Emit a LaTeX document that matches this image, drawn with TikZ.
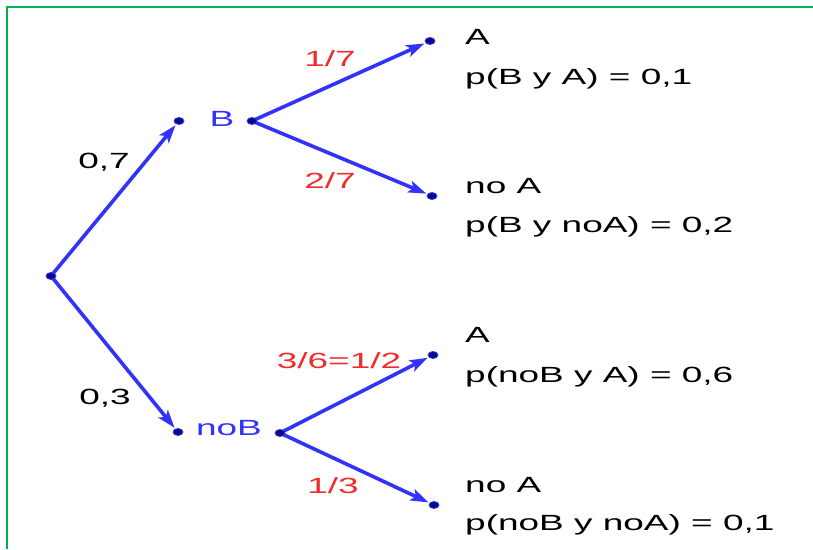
\documentclass[tikz,border=0pt]{standalone}
\usepackage{fontspec}
\setmainfont{Liberation Sans}[FakeStretch=1.68]
\usetikzlibrary{arrows.meta,shapes.geometric}
\definecolor{lblue}{RGB}{50,50,250}
\definecolor{navy}{RGB}{10,10,130}
\definecolor{lred}{RGB}{240,45,45}
\definecolor{lgreen}{RGB}{0,178,80}
\pgfdeclarelayer{bg}
\pgfsetlayers{bg,main}
\tikzset{
  pt/.style={ellipse,draw=lblue,fill=navy,line width=0.8pt,minimum width=10pt,minimum height=7pt,inner sep=0pt},
  arr/.style={draw=lblue,line width=3.6pt,-{Stealth[length=18pt,width=12pt,inset=4pt]},shorten >=1pt},
  txt/.style={font=\fontsize{22}{26}\selectfont,inner sep=0pt},
  red/.style={txt,text=lred,anchor=base},
  blk/.style={txt,text=black,anchor=base},
  bl/.style={txt,text=lblue,anchor=base},
  res/.style={txt,text=black,anchor=base west},
}
\begin{document}
\begin{tikzpicture}[x=1pt,y=1pt]
\useasboundingbox (0,0) rectangle (813,549);
\begin{pgfonlayer}{bg}
\fill[white] (0,0) rectangle (813,549);
\end{pgfonlayer}
\draw[lgreen,line width=2.5pt] (7,0) -- (7,542) -- (813,542);
% points
\node[pt] (r) at (51,273) {};
\node[pt] (b1) at (179,428) {};
\node[pt] (b2) at (252,428) {};
\node[pt] (a1) at (430,508) {};
\node[pt] (na1) at (432,353) {};
\node[pt] (n1) at (178,117) {};
\node[pt] (n2) at (280,116) {};
\node[pt] (a2) at (433,194) {};
\node[pt] (na2) at (434,44) {};
% connectors
\begin{pgfonlayer}{bg}
\draw[arr] (r.center) -- (b1);
\draw[arr] (r.center) -- (n1);
\draw[arr] (b2.center) -- (a1);
\draw[arr] (b2.center) -- (na1);
\draw[arr] (n2.center) -- (a2);
\draw[arr] (n2.center) -- (na2);
\end{pgfonlayer}
% labels
\node[bl] (lb) at (222,422) {B};
\node[bl] (lnb) at (229,114) {noB};
\node[blk] (l07) at (104,380) {0,7};
\node[blk] (l03) at (105,145) {0,3};
\node[red] (l17) at (330,482) {1/7};
\node[red] (l27) at (330,360) {2/7};
\node[red] (l36) at (339,181) {3/6=1/2};
\node[red] (l13) at (333,56) {1/3};
% results
\node[res] (t1) at (465,504) {A};
\node[res] (p1) at (465,464) {p(B y A) = 0,1};
\node[res] (t2) at (465,355) {no A};
\node[res] (p2) at (465,316) {p(B y noA) = 0,2};
\node[res] (t3) at (465,206) {A};
\node[res] (p3) at (465,167) {p(noB y A) = 0,6};
\node[res] (t4) at (465,57) {no A};
\node[res] (p4) at (465,19) {p(noB y noA) = 0,1};
\end{tikzpicture}
\end{document}
